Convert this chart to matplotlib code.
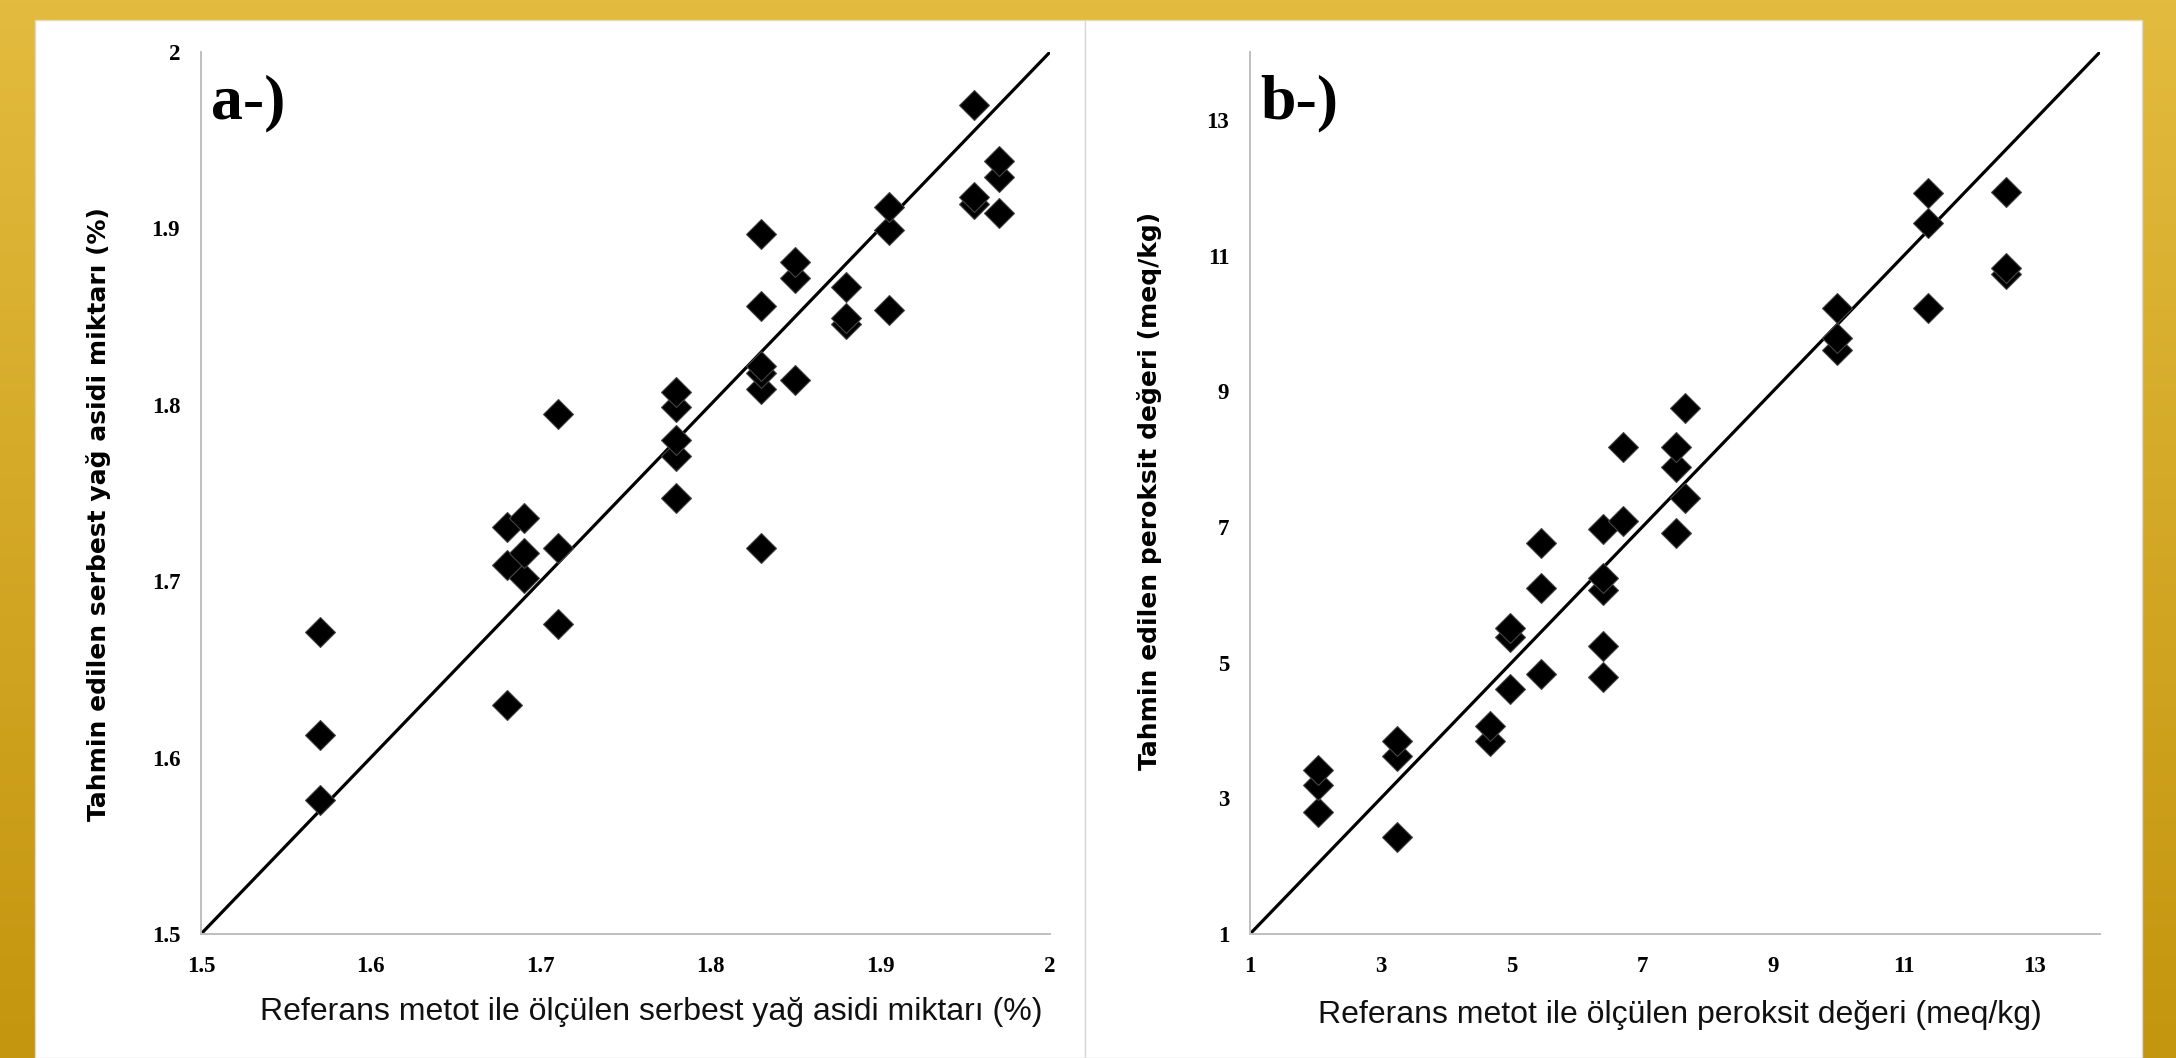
import numpy as np
import matplotlib.pyplot as plt
from matplotlib.patches import Rectangle

# a-) serbest yag asidi (%)
ffa_ref = [1.57, 1.57, 1.57,
           1.68, 1.68, 1.68,
           1.69, 1.69, 1.69,
           1.71, 1.71, 1.71,
           1.78, 1.78, 1.78, 1.78, 1.78,
           1.83, 1.83, 1.83, 1.83, 1.83, 1.83,
           1.85, 1.85, 1.85,
           1.88, 1.88, 1.88,
           1.905, 1.905, 1.905,
           1.955, 1.955, 1.955,
           1.97, 1.97, 1.97]
ffa_pred = [1.576, 1.613, 1.671,
            1.630, 1.709, 1.731,
            1.702, 1.716, 1.736,
            1.676, 1.719, 1.795,
            1.747, 1.771, 1.780, 1.799, 1.807,
            1.719, 1.809, 1.818, 1.822, 1.856, 1.897,
            1.814, 1.872, 1.881,
            1.846, 1.849, 1.867,
            1.854, 1.899, 1.912,
            1.914, 1.918, 1.970,
            1.909, 1.929, 1.938]

# b-) peroksit degeri (meq/kg)
pv_ref = [2.04, 2.04, 2.04,
          3.25, 3.25, 3.25,
          4.67, 4.67,
          4.98, 4.98, 4.98,
          5.45, 5.45, 5.45,
          6.40, 6.40, 6.40, 6.40, 6.40,
          6.71, 6.71,
          7.52, 7.52, 7.52,
          7.65, 7.65,
          9.98, 9.98, 9.98,
          11.37, 11.37, 11.37,
          12.56, 12.56, 12.56]
pv_pred = [2.80, 3.20, 3.42,
           2.43, 3.62, 3.85,
           3.85, 4.07,
           4.61, 5.38, 5.51,
           4.83, 6.10, 6.76,
           4.79, 5.24, 6.07, 6.25, 6.97,
           7.09, 8.18,
           6.91, 7.88, 8.18,
           7.43, 8.75,
           9.61, 9.78, 10.23,
           10.23, 11.48, 11.92,
           10.73, 10.82, 11.94]

ffa_ticks = [1.5, 1.6, 1.7, 1.8, 1.9, 2]
ffa_ticklabels = ['1.5', '1.6', '1.7', '1.8', '1.9', '2']
pv_ticks = [1, 3, 5, 7, 9, 11, 13]


def panel(ax, x, y, lim, ticks, ticklabels, xlabel, ylabel, tag):
    ax.plot(lim, lim, color='black', lw=2.3, zorder=2)
    ax.plot(x, y, linestyle='none', marker='D', markersize=15,
            markerfacecolor='black', markeredgecolor='#444444',
            markeredgewidth=0.8, zorder=3, clip_on=False)
    ax.set_xlim(lim)
    ax.set_ylim(lim)
    ax.set_xticks(ticks)
    ax.set_yticks(ticks)
    ax.set_xticklabels(ticklabels)
    ax.set_yticklabels(ticklabels)
    for lab in ax.get_xticklabels() + ax.get_yticklabels():
        lab.set_fontfamily('Liberation Serif')
        lab.set_fontweight('bold')
        lab.set_fontsize(16.5)
    ax.tick_params(axis='x', length=0, pad=16)
    ax.tick_params(axis='y', length=0, pad=15)
    for s in ['top', 'right']:
        ax.spines[s].set_visible(False)
    for s in ['left', 'bottom']:
        ax.spines[s].set_color('#BFBFBF')
        ax.spines[s].set_linewidth(1.4)
    ax.set_xlabel(xlabel, family='Liberation Sans', fontsize=23, va='center',
                  color='#111111')
    ax.set_ylabel(ylabel, family='DejaVu Sans', fontweight='bold',
                  fontsize=18, va='center')
    ax.text(0.012, 0.975, tag, transform=ax.transAxes, family='Liberation Serif',
            fontweight='bold', fontsize=46, ha='left', va='top')


fig = plt.figure(figsize=(21.76, 10.58), dpi=100)

# altin renkli arka plan
bg = fig.add_axes([0, 0, 1, 1], zorder=-10)
grad = np.linspace(0, 1, 256).reshape(-1, 1)
top_c = np.array([227, 187, 62]) / 255
bot_c = np.array([196, 149, 14]) / 255
img = top_c[None, None, :] * (1 - grad[:, :, None]) + bot_c[None, None, :] * grad[:, :, None]
bg.imshow(img, aspect='auto', extent=[0, 1, 0, 1])
bg.set_xlim(0, 1)
bg.set_ylim(0, 1)
bg.axis('off')
W, H = 2176, 1058
bg.add_patch(Rectangle((35 / W, 0), (1085 - 35) / W, (H - 20) / H,
                       facecolor='white', edgecolor='#D9D9D9', lw=1))
bg.add_patch(Rectangle((1085 / W, 0), (2142 - 1085) / W, (H - 20) / H,
                       facecolor='white', edgecolor='#D9D9D9', lw=1))

ax1 = fig.add_axes([201 / W, 124 / H, 849 / W, 882 / H])
ax2 = fig.add_axes([1250 / W, 124 / H, 850 / W, 882 / H])

panel(ax1, ffa_ref, ffa_pred, [1.5, 2], ffa_ticks, ffa_ticklabels,
      'Referans metot ile ölçülen serbest yağ asidi miktarı (%)',
      'Tahmin edilen serbest yağ asidi miktarı (%)', 'a-)')
panel(ax2, pv_ref, pv_pred, [1, 14], pv_ticks, [str(t) for t in pv_ticks],
      'Referans metot ile ölçülen peroksit değeri (meq/kg)',
      'Tahmin edilen peroksit değeri (meq/kg)', 'b-)')

ax1.xaxis.set_label_coords(0.530, -0.0884)
ax1.yaxis.set_label_coords(-0.121, 0.476)
ax2.xaxis.set_label_coords(0.506, -0.092)
ax2.yaxis.set_label_coords(-0.118, 0.502)

fig.savefig('out.png', dpi=100)
